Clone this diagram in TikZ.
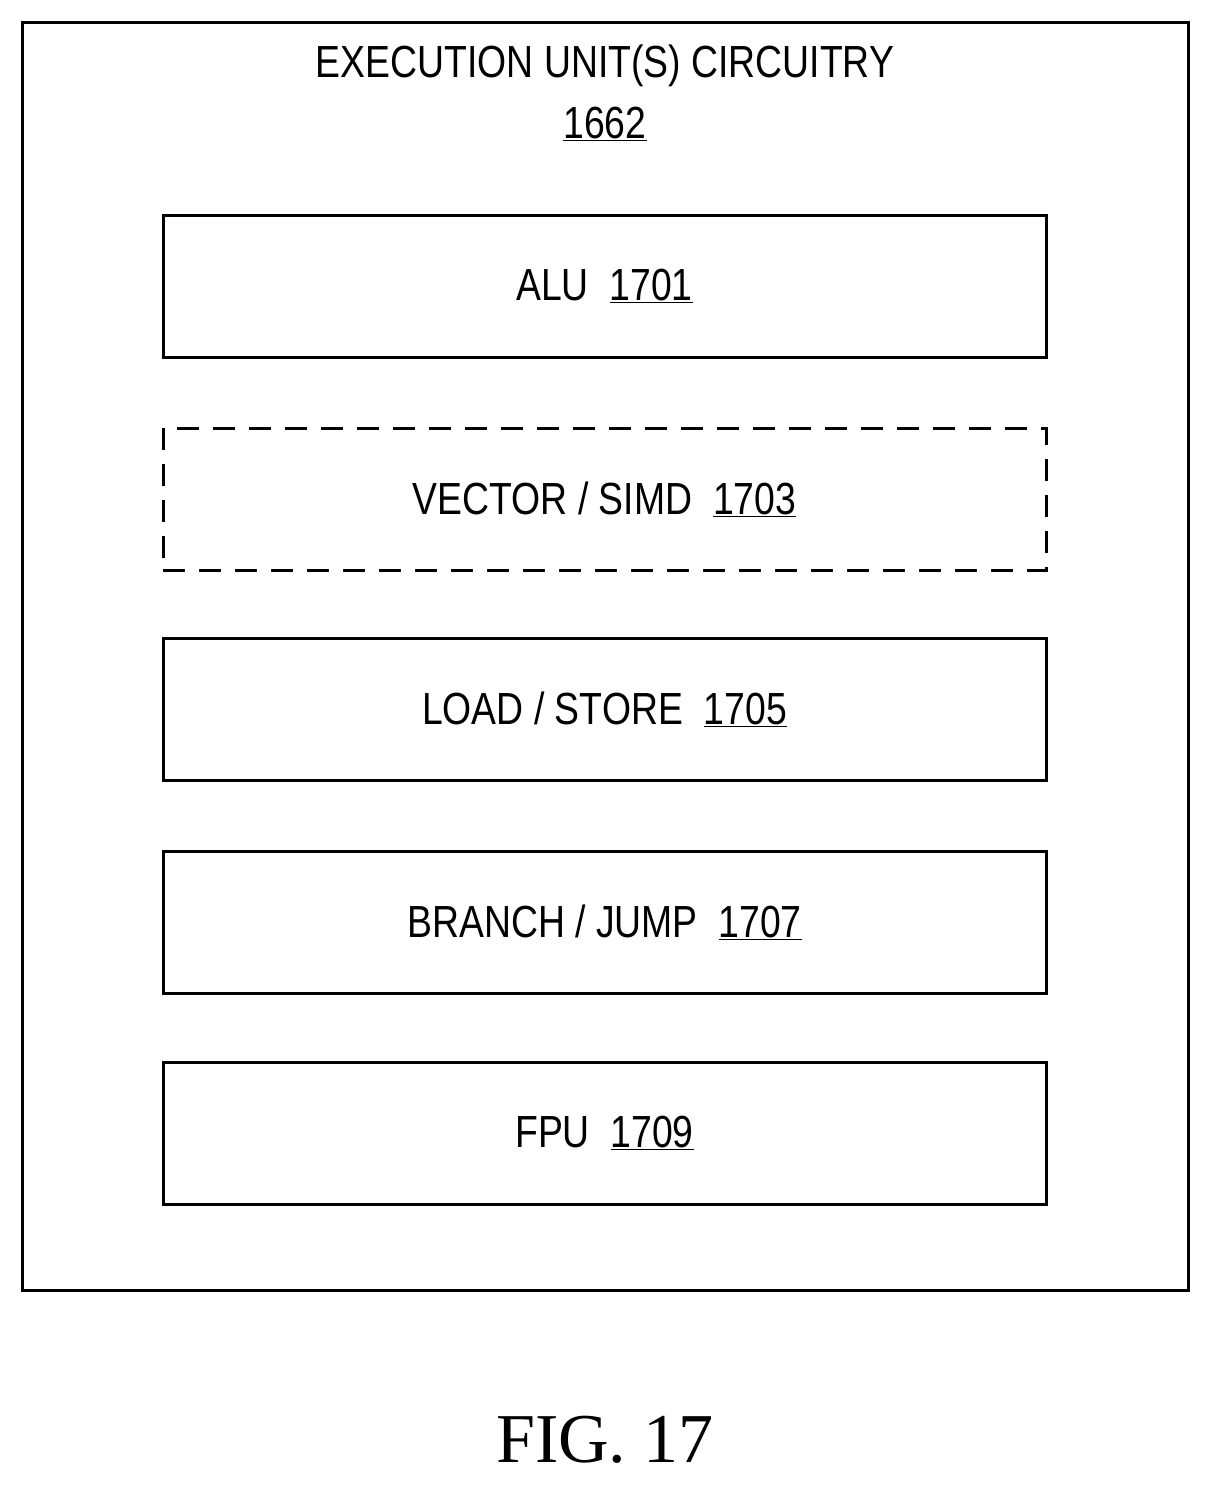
\documentclass[tikz,border=0pt]{standalone}
\usepackage{fontspec}
\setmainfont{Liberation Sans}
\newfontfamily\serifx{Liberation Serif}
\newcommand{\nar}[1]{\scalebox{0.83}[1]{#1}}
\begin{document}
\begin{tikzpicture}[x=1pt,y=-1pt,
  unit/.style={draw,line width=3pt,minimum width=883pt,minimum height=142pt,inner sep=0pt},
  lbl/.style={font=\fontsize{45}{50}\selectfont}]
\useasboundingbox (0,0) rectangle (1210,1486);
\draw[line width=3pt] (22,22) rectangle (1188,1290);
\node[lbl] (t1) at (605,66) {\nar{EXECUTION UNIT(S) CIRCUITRY}};
\node[lbl] (t2) at (605,124) {\nar{\underline{1662}}};
\node[unit] (alu) at (604.5,286) {};
\node[lbl] at (alu) {\nar{ALU\ \ \underline{1701}}};
\node[unit,dashed,dash pattern=on 22pt off 14pt] (vec) at (604.5,499) {};
\node[lbl] at (vec) {\nar{VECTOR / SIMD\ \ \underline{1703}}};
\node[unit] (ls) at (604.5,709.5) {};
\node[lbl] at (ls) {\nar{LOAD / STORE\ \ \underline{1705}}};
\node[unit] (br) at (604.5,922) {};
\node[lbl] at (br) {\nar{BRANCH / JUMP\ \ \underline{1707}}};
\node[unit] (fpu) at (604.5,1133) {};
\node[lbl] at (fpu) {\nar{FPU\ \ \underline{1709}}};
\node[font=\serifx\fontsize{70}{76}\selectfont] (fig) at (605,1440) {FIG. 17};
\end{tikzpicture}
\end{document}
